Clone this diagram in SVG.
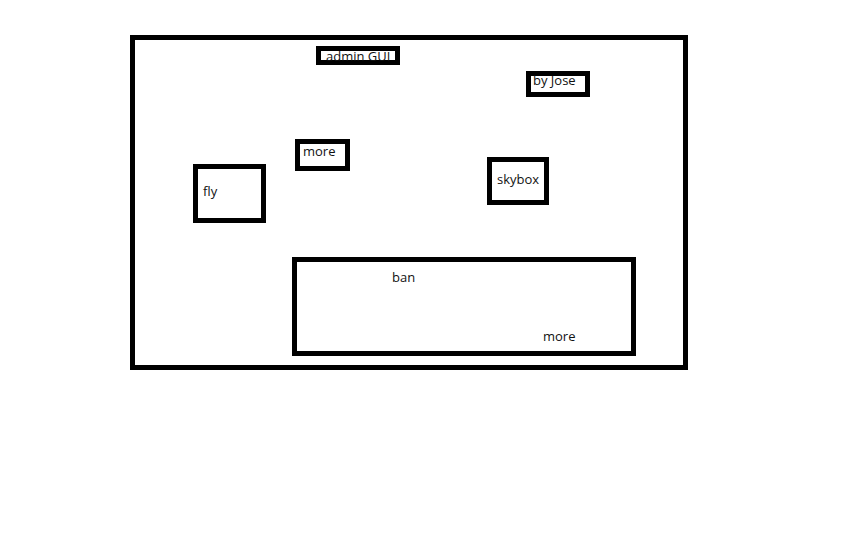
<svg xmlns="http://www.w3.org/2000/svg" width="864" height="540" viewBox="0 0 864 540">
<style>
.b{fill:#fff;stroke:#000;stroke-width:5}
.t{font-family:"Open Sans","Noto Sans",sans-serif;font-size:13px;fill:#111}
</style>
<rect width="864" height="540" fill="#fff"/>
<g id="frame"><rect class="b" x="132.5" y="37.5" width="553" height="330"/></g>
<g id="admin-gui"><rect class="b" x="318.5" y="48.5" width="79" height="14"/><text class="t" x="326" y="61">admin GUI</text></g>
<g id="by-jose"><rect class="b" x="528.5" y="73.5" width="59" height="21"/><text class="t" x="533" y="85">by Jose</text></g>
<g id="more-top"><rect class="b" x="297.5" y="141.5" width="50" height="27"/><text class="t" x="303" y="156">more</text></g>
<g id="fly"><rect class="b" x="195.5" y="166.5" width="68" height="54"/><text class="t" x="203" y="196">fly</text></g>
<g id="skybox"><rect class="b" x="489.5" y="159.5" width="57" height="43"/><text class="t" x="497" y="184">skybox</text></g>
<g id="ban"><rect class="b" x="294.5" y="259.5" width="339" height="94"/><text class="t" x="392" y="282">ban</text><text class="t" x="543" y="341">more</text></g>
<g id="connectors"></g>
</svg>
